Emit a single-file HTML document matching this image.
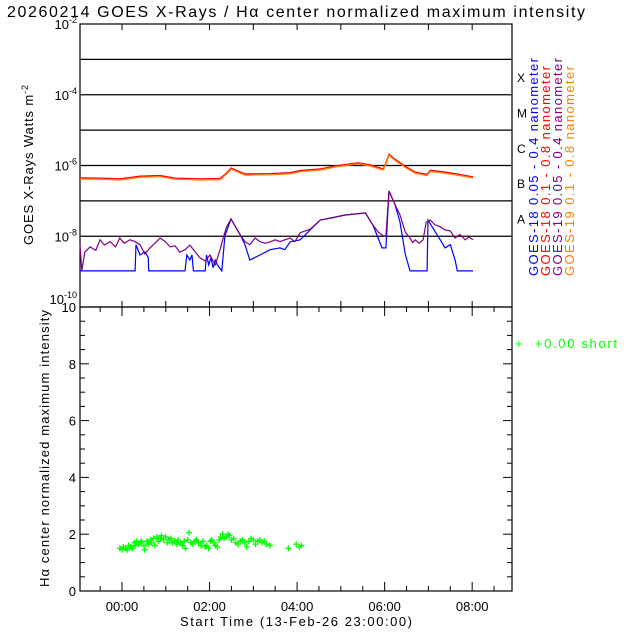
<!DOCTYPE html>
<html><head><meta charset="utf-8"><style>
html,body{margin:0;padding:0;background:#fff;width:640px;height:640px;overflow:hidden}
svg text{font-family:"Liberation Sans",sans-serif}
</style></head><body>
<svg id="c" width="640" height="640" viewBox="0 0 640 640" xmlns="http://www.w3.org/2000/svg">
<text x="7" y="17" font-size="16" textLength="578" lengthAdjust="spacing" fill="#000">20260214 GOES X-Rays / Hα center normalized maximum intensity</text>
<g id="topPanel"></g>
<g id="botPanel"></g>
<text transform="translate(33,245) rotate(-90)" font-size="13" textLength="160" lengthAdjust="spacing">GOES X-Rays Watts m<tspan dy="-5" font-size="9">-2</tspan></text>
<text transform="translate(49,587) rotate(-90)" font-size="13" textLength="277" lengthAdjust="spacing">Hα center normalized maximum intensity</text>
<text x="180" y="626" font-size="13" textLength="232" lengthAdjust="spacing">Start Time (13-Feb-26 23:00:00)</text>
<text x="515" y="348" font-size="13" fill="#00ff00" textLength="102" lengthAdjust="spacing">+ &#160;+0.00 short</text>
<g font-size="13">
<text transform="translate(538,276) rotate(-90)" fill="#0000ff" textLength="218" lengthAdjust="spacing">GOES-18 0.05 - 0.4 nanometer</text>
<text transform="translate(550,276) rotate(-90)" fill="#ff0000" textLength="210" lengthAdjust="spacing">GOES-18 0.1 - 0.8 nanometer</text>
<text transform="translate(562,276) rotate(-90)" fill="#800080" textLength="218" lengthAdjust="spacing">GOES-19 0.05 - 0.4 nanometer</text>
<text transform="translate(574,276) rotate(-90)" fill="#ff8000" textLength="210" lengthAdjust="spacing">GOES-19 0.1 - 0.8 nanometer</text>
</g>
</svg>
<script>
// ---- data ----
const xTickLabels=["00:00","02:00","04:00","06:00","08:00"];
const xTickHours=[0,2,4,6,8];
const classLetters=["A","B","C","M","X"];
const yDecades=[-10,-8,-6,-4,-2];
const haTickLabels=[0,2,4,6,8,10];
// long channel (hours, flux W/m2)
const longHours=[-0.96,-0.5,-0.05,0.2,0.41,0.87,1.21,1.78,2.24,2.38,2.49,2.81,3.38,3.84,4.07,4.53,4.87,5.21,5.39,5.67,5.97,6.03,6.10,6.24,6.47,6.70,6.97,7.04,7.27,7.61,8.02];
const longFlux=[4.5e-7,4.4e-7,4.2e-7,4.6e-7,5.0e-7,5.2e-7,4.4e-7,4.2e-7,4.3e-7,6.0e-7,8.5e-7,5.8e-7,5.9e-7,6.3e-7,7.2e-7,8.0e-7,9.8e-7,1.12e-6,1.2e-6,1.05e-6,8.0e-7,1.2e-6,2.1e-6,1.5e-6,9.5e-7,6.5e-7,5.6e-7,7.3e-7,6.8e-7,5.9e-7,4.8e-7];
// GOES-18 short (hours, log10 flux)
const blueHours=[-0.96,0.30,0.32,0.41,0.52,0.60,0.61,1.44,1.48,1.55,1.60,1.63,1.90,1.93,1.98,2.03,2.08,2.13,2.18,2.28,2.35,2.49,2.70,2.81,2.92,3.15,3.38,3.61,3.72,3.84,4.07,4.53,5.10,5.33,5.56,5.73,5.85,5.94,6.03,6.10,6.24,6.35,6.47,6.58,6.70,6.97,6.99,7.27,7.38,7.50,7.61,7.66,8.02];
const blueLog=[-8.98,-8.98,-8.24,-8.53,-8.44,-8.6,-8.98,-8.98,-8.53,-8.67,-8.53,-8.98,-8.98,-8.53,-8.81,-8.61,-8.89,-8.67,-8.81,-8.98,-7.99,-7.51,-7.96,-8.24,-8.67,-8.53,-8.38,-8.33,-8.38,-8.16,-8.10,-7.54,-7.40,-7.37,-7.34,-7.68,-8.05,-8.33,-8.33,-6.72,-7.11,-7.6,-8.5,-8.98,-8.98,-8.98,-7.54,-8.10,-8.33,-8.24,-8.67,-8.98,-8.98];
// GOES-19 short (hours, log10 flux)
const purpHours=[-0.96,-0.92,-0.85,-0.73,-0.6,-0.5,-0.4,-0.27,-0.15,-0.05,0.05,0.18,0.30,0.41,0.52,0.64,0.75,0.87,0.99,1.1,1.21,1.32,1.44,1.55,1.67,1.78,1.90,2.01,2.13,2.24,2.30,2.38,2.49,2.60,2.70,2.81,2.92,3.04,3.15,3.27,3.38,3.5,3.61,3.72,3.84,3.95,4.07,4.3,4.53,4.8,5.10,5.33,5.56,5.73,5.85,5.97,6.03,6.10,6.24,6.35,6.47,6.58,6.64,6.70,6.79,6.88,6.95,7.04,7.15,7.27,7.38,7.5,7.61,7.72,7.84,7.93,8.02];
const purpLog=[-8.24,-8.98,-8.45,-8.30,-8.40,-8.10,-8.25,-8.15,-8.30,-8.05,-8.20,-8.10,-8.15,-8.24,-8.50,-8.33,-8.20,-8.05,-8.15,-8.30,-8.27,-8.45,-8.38,-8.25,-8.44,-8.61,-8.70,-8.53,-8.81,-8.38,-8.10,-7.76,-7.51,-7.75,-7.96,-8.15,-8.24,-8.05,-8.15,-8.20,-8.16,-8.10,-8.15,-8.10,-8.05,-8.15,-7.90,-7.80,-7.54,-7.48,-7.40,-7.37,-7.34,-7.68,-7.88,-7.99,-7.99,-6.72,-7.11,-7.40,-7.88,-8.05,-8.18,-8.10,-8.20,-8.10,-7.60,-7.54,-7.68,-7.73,-7.82,-7.85,-8.05,-7.95,-8.10,-8.02,-8.10];
// H-alpha normalized max intensity (hours, value)
const haHours=[-0.05,0.0,0.03,0.08,0.12,0.15,0.2,0.23,0.28,0.3,0.33,0.38,0.42,0.45,0.5,0.52,0.57,0.6,0.65,0.68,0.72,0.75,0.8,0.83,0.88,0.9,0.95,1.0,1.03,1.08,1.12,1.15,1.2,1.25,1.28,1.33,1.38,1.42,1.45,1.5,1.53,1.58,1.62,1.67,1.7,1.75,1.8,1.85,1.9,1.93,1.98,2.02,2.05,2.1,2.13,2.18,2.22,2.25,2.3,2.33,2.38,2.42,2.45,2.5,2.55,2.6,2.65,2.7,2.75,2.8,2.85,2.9,2.95,3.0,3.05,3.1,3.15,3.2,3.25,3.3,3.38,3.8,3.98,4.05,4.1];
const haVal=[1.5,1.45,1.55,1.5,1.45,1.6,1.55,1.5,1.7,1.6,1.75,1.65,1.7,1.75,1.6,1.45,1.75,1.65,1.8,1.7,1.85,1.6,1.9,1.75,1.85,1.95,1.8,1.9,1.7,1.8,1.85,1.7,1.75,1.65,1.8,1.7,1.6,1.75,1.5,1.8,2.05,1.7,1.65,1.75,1.8,1.7,1.6,1.75,1.55,1.6,1.5,1.75,1.8,1.7,1.6,1.55,1.8,1.9,2.0,1.85,1.9,2.0,1.95,1.8,1.85,1.7,1.65,1.75,1.8,1.7,1.55,1.75,1.85,1.8,1.65,1.75,1.8,1.7,1.75,1.65,1.6,1.5,1.65,1.55,1.6];

// ---- axes ----
const L=80,R=512,T1=24,B1=307,T2=307,B2=591;
const H0=-0.96,H1=8.91;
const xs=h=>L+(h-H0)/(H1-H0)*(R-L);
const yLog=l=>T1+(-2-l)/8*(B1-T1);
const yHa=v=>B2-v/10*(B2-T2);
const NS="http://www.w3.org/2000/svg";
function mk(parent,tag,attrs){const e=document.createElementNS(NS,tag);for(const k in attrs)e.setAttribute(k,attrs[k]);parent.appendChild(e);return e;}
const topG=document.getElementById('topPanel'),botG=document.getElementById('botPanel');

let fr=mk(topG,'rect',{x:L,y:T1,width:R-L,height:B1-T1,fill:'none',stroke:'#000','stroke-width':1.2});


for(let d=-8;d<=-3;d++){
  const ln=mk(topG,'line',{x1:L,x2:R,y1:yLog(d),y2:yLog(d),stroke:'#000','stroke-width':1.2});
  
  
}
yDecades.forEach(d=>{
  const off=(d===-10)?-3:5;
  const t=mk(topG,'text',{x:L-3,y:yLog(d)+off,'text-anchor':'end','font-size':13});
  
  
  t.innerHTML='10<tspan dy="-6" font-size="9">'+d+'</tspan>';
});
classLetters.forEach((c,i)=>{
  const t=mk(topG,'text',{x:517,y:yLog(-7.5+i)+5,'font-size':12});
  
  
  t.textContent=c;
});
for(let h=0;h<=8;h++){
  const x=xs(h);
  mk(topG,'line',{x1:x,x2:x,y1:T1,y2:T1+6,stroke:'#000'});
  mk(topG,'line',{x1:x,x2:x,y1:B1,y2:B1-6,stroke:'#000'});
}
function poly(hours,vals,yf,color,name,dy){
  const pts=hours.map((h,i)=>xs(h).toFixed(1)+','+(yf(vals[i])+(dy||0)).toFixed(1)).join(' ');
  const p=mk(topG,'polyline',{points:pts,fill:'none',stroke:color,'stroke-width':1.2});
  
  
}
poly(longHours,longFlux,v=>yLog(Math.log10(v)),'#ff0000','goes18-long-line',0);
poly(longHours,longFlux,v=>yLog(Math.log10(v)),'#ff8000','goes19-long-line',1.2);
poly(blueHours,blueLog,yLog,'#0000ff','goes18-short-line',0);
poly(purpHours,purpLog,yLog,'#800080','goes19-short-line',0);

fr=mk(botG,'rect',{x:L,y:T2,width:R-L,height:B2-T2,fill:'none',stroke:'#000','stroke-width':1.2});


for(let v=0;v<=10;v+=0.5){
  const major=(v%2===0),len=major?9:5,y=yHa(v);
  mk(botG,'line',{x1:L,x2:L+len,y1:y,y2:y,stroke:'#000'});
  mk(botG,'line',{x1:R,x2:R-len,y1:y,y2:y,stroke:'#000'});
}
haTickLabels.forEach(v=>{
  const t=mk(botG,'text',{x:L-4,y:yHa(v)+5,'text-anchor':'end','font-size':13});
  
  
  t.textContent=v;
});
for(let h=-0.5;h<=8.5;h+=0.5){
  const x=xs(h),len=(h%2===0)?9:5;
  mk(botG,'line',{x1:x,x2:x,y1:B2,y2:B2-len,stroke:'#000'});
  mk(botG,'line',{x1:x,x2:x,y1:T2,y2:T2+len,stroke:'#000'});
}
xTickLabels.forEach((s,i)=>{
  const t=mk(botG,'text',{x:xs(xTickHours[i]),y:611,'text-anchor':'middle','font-size':13});
  
  
  t.textContent=s;
});
haHours.forEach((h,i)=>{
  const x=xs(h),y=yHa(haVal[i]);
  const p=mk(botG,'path',{d:`M${x-3},${y}H${x+3}M${x},${y-3}V${y+3}`,stroke:'#00ff00','stroke-width':1.3});
  
  
});
</script>
</body></html>
